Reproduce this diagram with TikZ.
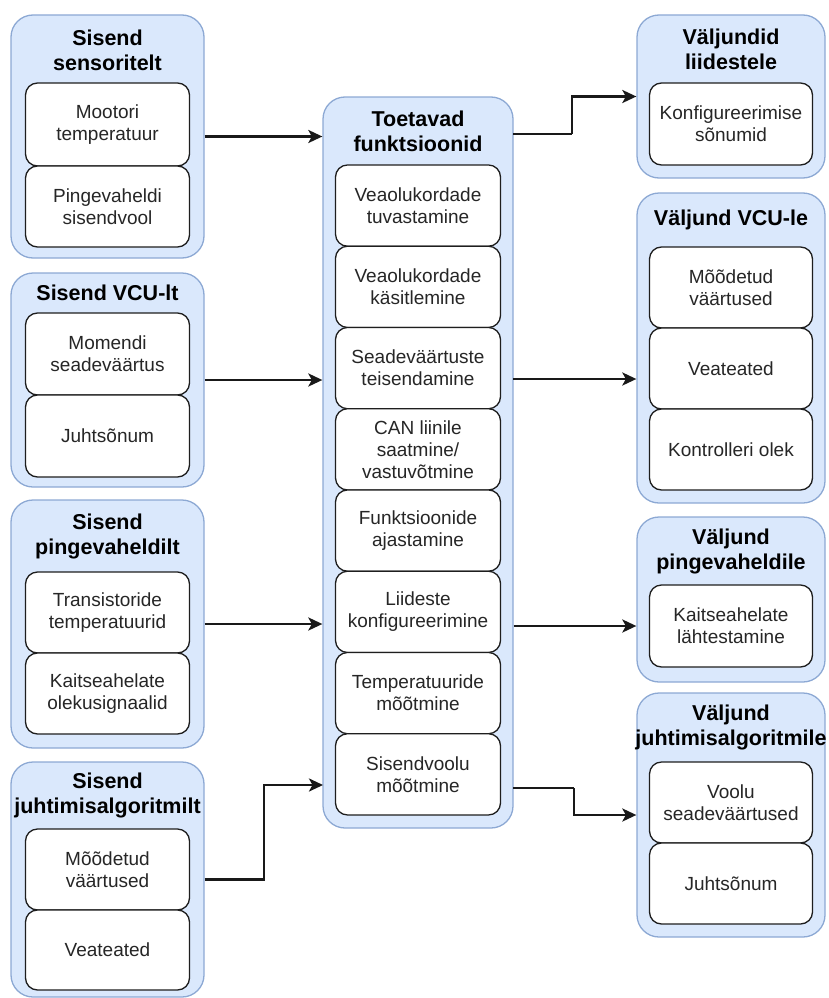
\documentclass[tikz,border=0pt]{standalone}
\usepackage{fontspec}
\setmainfont{Liberation Sans}
\usetikzlibrary{arrows.meta,calc}
\definecolor{grpfill}{HTML}{DAE8FC}
\definecolor{grpline}{HTML}{8DA9D4}
\definecolor{cellline}{HTML}{1E1E1E}
\definecolor{celltext}{HTML}{262626}
\tikzset{
  grp/.style={draw=grpline, fill=grpfill, rounded corners=22pt, line width=1.3pt, inner sep=0pt},
  cell/.style={draw=cellline, fill=white, rounded corners=12pt, line width=1.3pt, inner sep=0pt,
    align=center, text=celltext, font=\fontsize{19}{22}\selectfont},
  ttl/.style={align=center, inner sep=0pt, font=\fontsize{21.5}{25}\selectfont\bfseries},
  wire/.style={line width=2.6pt, draw=black!90},
  flow/.style={wire, -{Stealth[length=14pt,width=13pt,inset=3.5pt]}},
}
\begin{document}
\begin{tikzpicture}[x=1pt,y=-1pt]
\useasboundingbox (0,0) rectangle (828,998);

% ---------- left column: inputs ----------
\node[grp, minimum width=193pt, minimum height=243pt] (L1) at (107.5,136.5) {};
\node[ttl] (L1t) at (107.5,50) {Sisend\\sensoritelt};
\node[cell, minimum width=164pt, minimum height=83pt] (L1a) at (107.5,124.5) {Mootori\\temperatuur};
\node[cell, minimum width=164pt, minimum height=81pt] (L1b) at (107.5,206.5) {Pingevaheldi\\sisendvool};

\node[grp, minimum width=193pt, minimum height=214pt] (L2) at (107.5,380) {};
\node[ttl] (L2t) at (107.5,293) {Sisend VCU-lt};
\node[cell, minimum width=164pt, minimum height=82pt] (L2a) at (107.5,354) {Momendi\\seadeväärtus};
\node[cell, minimum width=164pt, minimum height=82pt] (L2b) at (107.5,436) {Juhtsõnum};

\node[grp, minimum width=193pt, minimum height=248pt] (L3) at (107.5,624) {};
\node[ttl] (L3t) at (107.5,536) {Sisend\\pingevaheldilt};
\node[cell, minimum width=164pt, minimum height=81pt] (L3a) at (107.5,612.5) {Transistoride\\temperatuurid};
\node[cell, minimum width=164pt, minimum height=81pt] (L3b) at (107.5,693.5) {Kaitseahelate\\olekusignaalid};

\node[grp, minimum width=193pt, minimum height=235pt] (L4) at (107.5,879.5) {};
\node[ttl] (L4t) at (107.5,795.5) {Sisend\\juhtimisalgoritmilt};
\node[cell, minimum width=164pt, minimum height=81pt] (L4a) at (107.5,869.5) {Mõõdetud\\väärtused};
\node[cell, minimum width=164pt, minimum height=80pt] (L4b) at (107.5,950) {Veateated};

% ---------- centre column: functions ----------
\node[grp, minimum width=190pt, minimum height=731pt] (C) at (418,462.5) {};
\node[ttl] (Ct) at (418,131) {Toetavad\\funktsioonid};
\foreach \i/\txt in {0/{Veaolukordade\\tuvastamine},
                     1/{Veaolukordade\\käsitlemine},
                     2/{Seadeväärtuste\\teisendamine},
                     3/{CAN liinile\\saatmine/\\vastuvõtmine},
                     4/{Funktsioonide\\ajastamine},
                     5/{Liideste\\konfigureerimine},
                     6/{Temperatuuride\\mõõtmine},
                     7/{Sisendvoolu\\mõõtmine}}
  \node[cell, minimum width=165pt, minimum height=81.25pt] (C\i) at (418,{205.6+81.25*\i}) {\txt};

% ---------- right column: outputs ----------
\node[grp, minimum width=188pt, minimum height=163pt] (R1) at (731,96.5) {};
\node[ttl] (R1t) at (731,49) {Väljundid\\liidestele};
\node[cell, minimum width=163pt, minimum height=82pt] (R1a) at (731,124) {Konfigureerimise\\sõnumid};

\node[grp, minimum width=188pt, minimum height=310pt] (R2) at (731,348) {};
\node[ttl] (R2t) at (731,220) {Väljund VCU-le};
\node[cell, minimum width=163pt, minimum height=81pt] (R2a) at (731,287.5) {Mõõdetud\\väärtused};
\node[cell, minimum width=163pt, minimum height=81pt] (R2b) at (731,368.5) {Veateated};
\node[cell, minimum width=163pt, minimum height=81pt] (R2c) at (731,449.5) {Kontrolleri olek};

\node[grp, minimum width=188pt, minimum height=165pt] (R3) at (731,599.5) {};
\node[ttl] (R3t) at (731,551) {Väljund\\pingevaheldile};
\node[cell, minimum width=163pt, minimum height=82pt] (R3a) at (731,626) {Kaitseahelate\\lähtestamine};

\node[grp, minimum width=188pt, minimum height=244pt] (R4) at (731,815) {};
\node[ttl] (R4t) at (731,727.5) {Väljund\\juhtimisalgoritmile};
\node[cell, minimum width=163pt, minimum height=81pt] (R4a) at (731,802.5) {Voolu\\seadeväärtused};
\node[cell, minimum width=163pt, minimum height=81pt] (R4b) at (731,883.5) {Juhtsõnum};

% ---------- connectors ----------
\coordinate (in4) at (323,785);
\coordinate (out1) at (513,134);
\coordinate (out2) at (513,379);
\coordinate (out4) at (513,788);

\draw[flow] (L1.east) -- (C.west |- L1.east);
\draw[flow] (L2.east) -- (C.west |- L2.east);
\draw[flow] (L3.east) -- (C.west |- L3.east);
\draw[flow] (L4.east) -| ($(L4.east)!0.5!(in4 |- L4.east)$) |- (in4);

\draw[wire] (out1) -- (572,134) coordinate (b1);
\draw[flow] (b1) |- (R1.west);
\draw[flow] (out2) -- (R2.west |- out2);
\draw[flow] (C.east |- R3a) -- (R3.west |- R3a);
\draw[wire] (out4) -- (574,788) coordinate (b4);
\draw[flow] (b4) |- (R4.west);
\end{tikzpicture}
\end{document}
